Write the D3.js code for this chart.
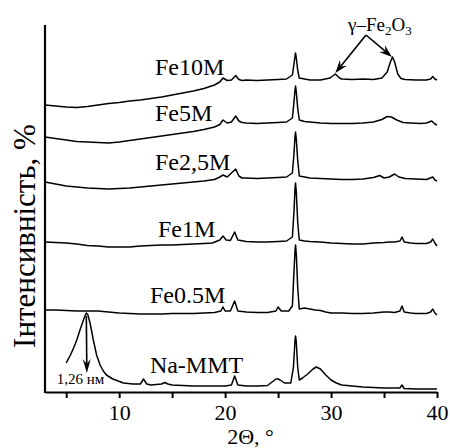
<!DOCTYPE html>
<html><head><meta charset="utf-8">
<script src="https://cdn.jsdelivr.net/npm/d3@7"></script>
<style>
html,body{margin:0;padding:0;background:#fff;}
svg text{font-family:"Liberation Serif","Times New Roman",serif;fill:#000;}
</style></head>
<body>
<svg id="c" width="450" height="448"></svg>
<script>
// ---- data (2θ in degrees, intensity in arbitrary units, curves already offset) ----
const xTicks = [5, 10, 15, 20, 25, 30, 35, 40];
const xTickLabels = ["", "10", "", "20", "", "30", "", "40"];
const seriesNames = ["Na-MMT", "Fe0.5M", "Fe1M", "Fe2,5M", "Fe5M", "Fe10M"];

const naMMT = [[5.0,29],[5.4,37],[5.7,44],[6.0,52],[6.3,62],[6.6,71],[6.8,77],[6.9,79],[7.05,77],[7.25,69],[7.4,61],[7.56,52],[7.87,37],[8.2,27],[8.5,21],[8.8,17],[9.4,13],[10.4,9],[11.3,8],[12.0,8],[12.3,13],[12.6,8],[13,7],[14,8],[14.3,9.5],[14.6,8],[15,7],[16,6.5],[17,6],[18,6],[19,6],[20,6],[20.6,7],[20.9,16],[21.2,7],[22,6],[23,6],[24,6.5],[24.8,13],[25.0,13],[25.2,12],[25.6,9],[26.2,9],[26.45,25],[26.6,52],[26.65,56],[26.72,50],[26.85,25],[27.0,12],[27.3,14],[27.8,18],[28.3,23],[28.6,25],[29.0,23],[29.5,17],[30,12],[30.5,9],[31,7],[32,6],[33,5],[34,4.5],[35,4],[36,4],[36.5,4],[36.7,7],[36.9,3.5],[38,3],[39,3],[40,3]];

const fe05M = [[3.0,82],[4,82],[5,81.5],[6,81],[7,81],[8,81],[9,80],[10,79],[11,78.5],[12,78],[13,78],[14,78],[15,78.5],[16,78.5],[17,78.5],[18,79],[19,79.5],[19.6,81],[19.8,85],[20.0,81],[20.5,81],[20.9,91],[21.2,81],[22,80],[23,79.5],[24,79.5],[24.8,81],[25.0,85],[25.3,81],[26.0,81],[26.35,86],[26.5,120],[26.6,142],[26.65,147],[26.72,138],[26.85,105],[27.0,83],[27.5,84],[28,83],[28.5,82],[29,81.5],[29.5,80],[30,79],[31,79],[32,78.5],[33,78.5],[34,79],[35,80],[35.5,80],[36,79.5],[36.5,81],[36.7,86],[36.9,80],[37.5,79],[38,78.5],[39,78.5],[39.4,80],[39.6,83],[39.8,79],[40,77]];

const fe1M = [[3.0,150],[4,149.5],[5,149],[6,148],[7,146.5],[8,146],[9,145],[10,145],[11,145],[12,146],[13,146.5],[14,147],[15,147],[16,147.5],[17,148],[18,148.5],[18.8,149],[19.5,152],[19.8,156],[20.1,152],[20.5,151.5],[20.9,160],[21.2,152],[22,150.5],[23,150],[24,150],[25,150.5],[25.8,151],[26.35,155],[26.5,180],[26.6,204],[26.65,209],[26.72,200],[26.85,170],[27.0,152],[27.5,151],[28,150.5],[29,150],[30,149],[31,148.5],[32,148],[33,148],[34,149],[35,149.5],[35.5,150],[36,150],[36.5,151],[36.7,155],[36.9,150],[37.5,149],[38,148.5],[39,148.5],[39.4,150],[39.6,153],[39.8,149],[40,146]];

const fe25M = [[3,210],[4,208],[5,206],[6,205],[7,204],[8,203.5],[9,203],[10,203.5],[11,204],[12,205],[13,206],[14,207],[15,208],[16,209],[17,210],[18,211],[19,212.5],[19.5,215],[19.8,217],[20.2,215],[20.5,218],[21.0,223],[21.3,216],[21.6,214],[22,214],[23,213.5],[24,214],[25,214.5],[25.8,215],[26.35,219],[26.5,238],[26.6,256],[26.65,260],[26.72,253],[26.85,232],[27.0,216],[27.5,215],[28,214],[29,213.5],[30,213],[31,212.5],[32,212.5],[33,213],[34,214.5],[34.6,216.5],[35,214],[35.5,215],[36,218],[36.4,215],[37,213.5],[38,213],[39,212.5],[39.6,215],[39.8,212],[40,211]];

const fe5M = [[3,255],[4,253.5],[5,252],[6,250.5],[7,250],[8,249.5],[9,249],[10,250],[11,251.5],[12,253],[13,254.5],[14,256],[15,257.5],[16,259],[17,260.5],[18,262.5],[19,265],[19.5,267.5],[19.8,272],[20.2,269],[20.6,270],[21.0,276],[21.3,271],[21.6,269.5],[22,269],[23,268.5],[24,269],[25,269.5],[25.8,270],[26.35,274],[26.5,290],[26.6,302],[26.65,306],[26.72,300],[26.85,284],[27.0,272],[27.5,270.5],[28,270],[29,269],[30,268.5],[31,268.5],[32,268.5],[33,269],[34,270],[34.8,272.5],[35.3,275.5],[35.7,275],[36.2,272],[36.8,269.5],[37.5,269],[38.5,268.5],[39,269],[39.5,271],[39.8,268],[40,267]];

const fe10M = [[3,287],[4,286],[5,285],[6,284.5],[7,285.5],[8,287],[9,288.5],[10,289.5],[11,291],[12,292],[13,293.5],[14,295],[15,297],[16,299],[17,301],[18,303.5],[19,307],[19.5,310],[19.8,314],[20.2,311.5],[20.6,312],[21.0,316.5],[21.3,312.5],[21.6,311.5],[22,312],[23,311.5],[24,312],[25,312.5],[25.8,313],[26.35,317],[26.5,328],[26.6,336],[26.65,339],[26.72,334],[26.85,322],[27.0,314],[27.5,313],[28,312],[29,312],[29.9,314],[30.4,318],[30.8,314],[31,313],[32,312.5],[33,313],[34,312.5],[34.8,314],[35.3,320],[35.6,330],[35.8,335],[36.0,330],[36.3,318],[36.6,313.5],[37,312.5],[38,312],[39,312],[39.4,313],[39.6,315.5],[39.8,313],[40,312]];

const seriesData = [naMMT, fe05M, fe1M, fe25M, fe5M, fe10M];

// ---- layout ----
const svg = d3.select("#c");
const margin = {left: 45, right: 13, top: 25, bottom: 56};
const W = 450, H = 448;
const x = d3.scaleLinear().domain([3, 40]).range([margin.left, W - margin.right]);
const y = d3.scaleLinear().domain([0, 367]).range([H - margin.bottom, margin.top]);

const line = d3.line().x(d => x(d[0])).y(d => y(d[1]));

svg.append("g").selectAll("path").data(seriesData).join("path")
  .attr("d", line).attr("fill", "none").attr("stroke", "#000")
  .attr("stroke-width", 1.5).attr("stroke-linejoin", "round");

// axes
const xAxis = d3.axisBottom(x).tickValues(xTicks)
  .tickFormat((d, i) => xTickLabels[i]).tickSize(6).tickSizeOuter(0);
const gx = svg.append("g").attr("transform", `translate(0,${y(0)})`).call(xAxis);
gx.select(".domain").attr("stroke-width", 2.2);
gx.selectAll(".tick line").attr("stroke-width", 2);
gx.selectAll(".tick text").attr("font-size", 22).attr("y", 0).attr("dy", 0)
  .attr("transform", "translate(0,27.5)")
  .style("font-family", '"Liberation Serif", serif');

svg.append("line").attr("x1", x(3)).attr("x2", x(3))
  .attr("y1", y(0) + 1).attr("y2", y(367))
  .attr("stroke", "#000").attr("stroke-width", 2.2);

// axis titles
svg.append("text").attr("x", x(20.2)).attr("y", 444).attr("font-size", 22)
  .text("2Θ, °");
svg.append("text").attr("transform", `translate(35,${236}) rotate(-90)`)
  .attr("text-anchor", "middle").attr("font-size", 31).text("Інтенсивність, %");

// series labels
const labelPos = [[12.9,19],[12.9,89],[13.66,155],[13.38,222],[13.38,271],[13.38,317]];
svg.append("g").selectAll("text").data(seriesNames).join("text")
  .attr("x", (d, i) => x(labelPos[i][0])).attr("y", (d, i) => y(labelPos[i][1]))
  .attr("font-size", 24).text(d => d);

// arrowhead helper
function arrow(x1, y1, x2, y2, len, half) {
  const ang = Math.atan2(y2 - y1, x2 - x1);
  svg.append("line").attr("x1", x1).attr("y1", y1)
    .attr("x2", x2 - Math.cos(ang) * len * 0.6).attr("y2", y2 - Math.sin(ang) * len * 0.6)
    .attr("stroke", "#000").attr("stroke-width", 1.6);
  const bx = x2 - Math.cos(ang) * len, by = y2 - Math.sin(ang) * len;
  const px = -Math.sin(ang) * half, py = Math.cos(ang) * half;
  svg.append("path").attr("d", `M${x2},${y2}L${bx + px},${by + py}L${bx + Math.cos(ang)*len*0.35},${by + Math.sin(ang)*len*0.35}L${bx - px},${by - py}Z`)
    .attr("fill", "#000");
}

// 1,26 nm arrow on Na-MMT peak
arrow(x(6.9), y(76), x(6.95), y(19), 14, 4);
svg.append("text").attr("x", x(4.1)).attr("y", y(8)).attr("font-size", 15).text("1,26 нм");

// γ-Fe2O3 annotation
const gx0 = x(33.3), gy0 = y(357);
arrow(gx0, gy0, x(30.4), y(319), 13, 4.5);
arrow(gx0, gy0, x(35.75), y(335), 13, 4.5);
const g = svg.append("text").attr("x", x(31.6)).attr("y", y(361)).attr("font-size", 19);
g.append("tspan").text("γ–Fe");
g.append("tspan").attr("font-size", 13).attr("dy", 4).text("2");
g.append("tspan").attr("dy", -4).text("O");
g.append("tspan").attr("font-size", 13).attr("dy", 4).text("3");
</script>
</body></html>
